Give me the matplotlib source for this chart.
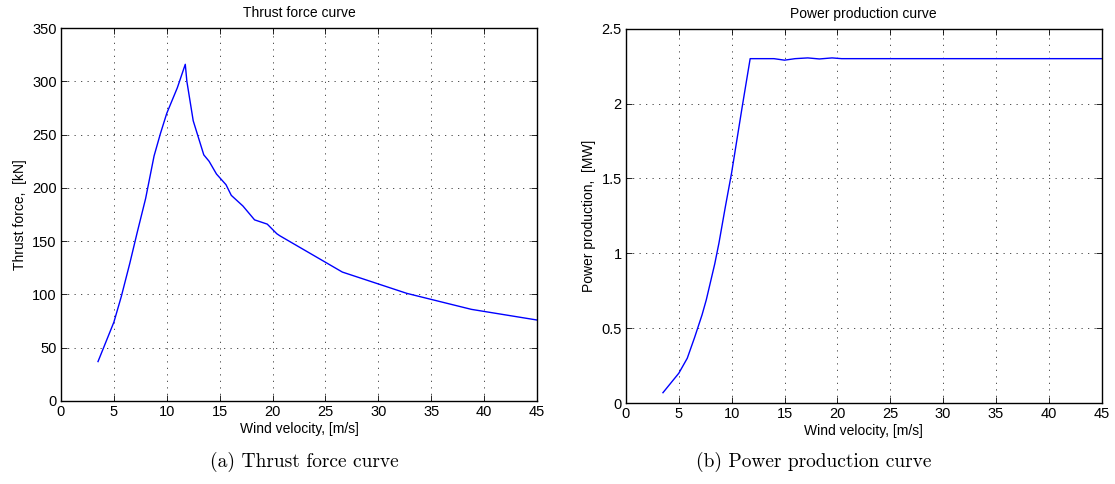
import matplotlib
matplotlib.use("Agg")
import matplotlib.pyplot as plt

# wind speed vs thrust
wind_thrust = [3.5, 5.0, 5.7, 6.5, 7.2, 8.0, 8.8, 9.4, 10.0, 11.0, 11.75, 11.9, 12.5,
               13.5, 14.0, 14.7, 15.6, 16.1, 17.2, 18.3, 19.5, 20.4, 20.7,
               26.6, 32.7, 38.8, 45.0]
thrust_kn = [37, 74, 98, 129, 158, 190, 230, 251, 270, 294, 316, 300, 263,
             231, 225, 213, 203, 193, 183, 170, 166, 157, 155,
             121, 101, 86, 76]

wind_power = [3.5, 5.0, 5.8, 6.5, 7.2, 7.6, 8.0, 8.4, 8.8, 9.4, 10.0, 11.0, 11.75, 12.5,
              14.0, 15.0, 16.0, 17.2, 18.3, 19.5, 20.4, 26.6, 32.7, 38.8, 45.0]
power_mw = [0.07, 0.20, 0.30, 0.44, 0.59, 0.69, 0.81, 0.93, 1.07, 1.31, 1.54, 1.98, 2.30, 2.30,
            2.30, 2.29, 2.30, 2.305, 2.298, 2.305, 2.30, 2.30, 2.30, 2.30, 2.30]

plt.rcParams['font.family'] = ['Liberation Sans', 'DejaVu Sans']
plt.rcParams['font.size'] = 10

fig = plt.figure(figsize=(11.15, 4.84), dpi=100)
ax1 = fig.add_axes([0.0547, 0.1715, 0.4269, 0.7705])
ax2 = fig.add_axes([0.5614, 0.1670, 0.4266, 0.7737])


def style(ax):
    ax.grid(True, linestyle=(0, (1.5, 6.3)), color='#333333', linewidth=0.6)
    ax.tick_params(direction='in', top=True, right=True, length=4, width=0.6,
                   pad=3, labelsize=10.5)
    for s in ax.spines.values():
        s.set_linewidth(1.0)
    ax.set_xlim(0, 45)
    ax.set_xticks(range(0, 46, 5))
    ax.set_xlabel("Wind velocity, [m/s]", labelpad=2)


ax1.plot(wind_thrust, thrust_kn, color='blue', linewidth=1.0)
style(ax1)
ax1.set_ylim(0, 350)
ax1.set_yticks(range(0, 351, 50))
ax1.set_ylabel("Thrust force,  [kN]", labelpad=4)
ax1.set_title("Thrust force curve", fontsize=10, pad=8)

ax2.plot(wind_power, power_mw, color='blue', linewidth=1.0)
style(ax2)
ax2.set_ylim(0, 2.5)
ax2.set_yticks([0, 0.5, 1, 1.5, 2, 2.5])
ax2.set_yticklabels(["0", "0.5", "1", "1.5", "2", "2.5"])
ax2.set_ylabel("Power production,  [MW]", labelpad=4)
ax2.set_title("Power production curve", fontsize=10, pad=8)

fig.text(0.273, 0.045, "(a) Thrust force curve", family='cmr10', fontsize=14,
         ha='center', va='center')
fig.text(0.730, 0.045, "(b) Power production curve", family='cmr10', fontsize=14,
         ha='center', va='center')

fig.savefig("out.png", dpi=100)
